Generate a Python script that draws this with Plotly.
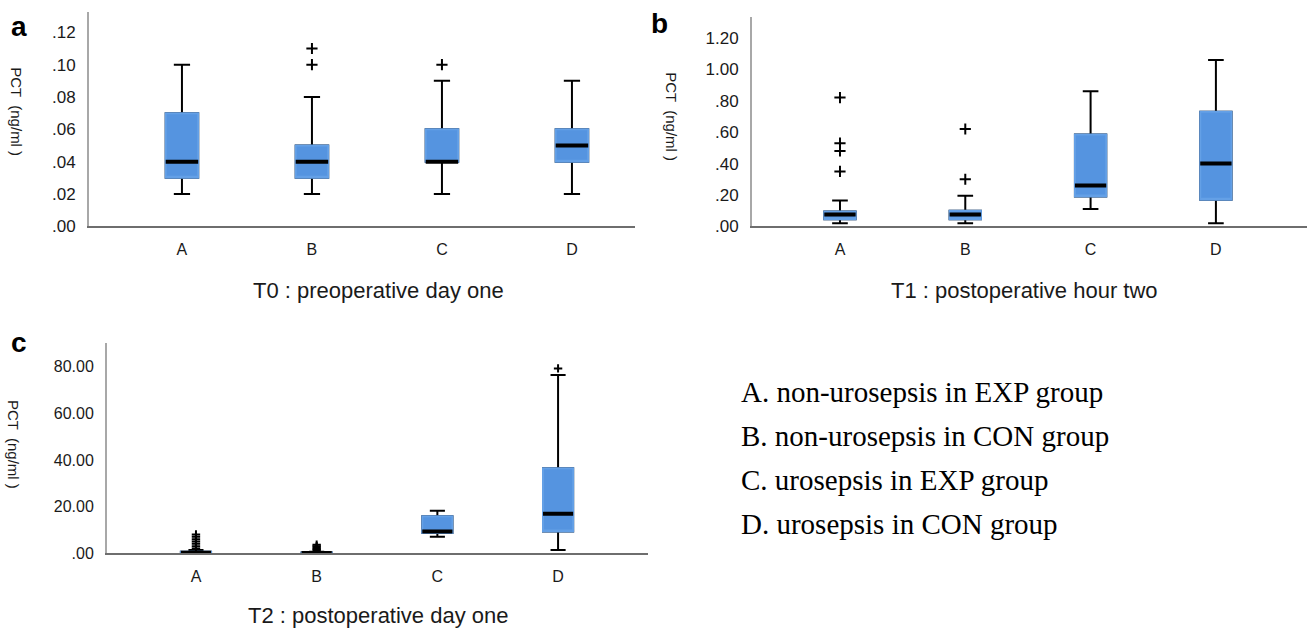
import plotly.graph_objects as go

# ---------------- data ----------------
categories = ["A", "B", "C", "D"]
cat_pos = [0, 1, 2, 3]

# T0 : preoperative day one
t0_low = [0.02, 0.02, 0.02, 0.02]
t0_q1 = [0.03, 0.03, 0.04, 0.04]
t0_med = [0.04, 0.04, 0.04, 0.05]
t0_q3 = [0.07, 0.05, 0.06, 0.06]
t0_high = [0.10, 0.08, 0.09, 0.09]
t0_out_cat = [1, 1, 2]
t0_out_val = [0.10, 0.11, 0.10]

# T1 : postoperative hour two
t1_low = [0.02, 0.02, 0.11, 0.02]
t1_q1 = [0.045, 0.045, 0.19, 0.17]
t1_med = [0.075, 0.075, 0.26, 0.40]
t1_q3 = [0.095, 0.10, 0.585, 0.73]
t1_high = [0.165, 0.195, 0.86, 1.06]
t1_out_cat = [0, 0, 0, 0, 1, 1]
t1_out_val = [0.35, 0.48, 0.53, 0.82, 0.30, 0.62]

# T2 : postoperative day one
t2_low = [0.02, 0.02, 7.0, 1.3]
t2_q1 = [0.1, 0.05, 8.7, 9.3]
t2_med = [0.2, 0.1, 9.3, 16.9]
t2_q3 = [0.6, 0.3, 15.8, 36.4]
t2_high = [1.3, 0.6, 18.2, 76.5]
t2_out_cat = [0, 0, 0, 0, 0, 0, 0, 1, 1, 1, 1, 1, 3]
t2_out_val = [2.0, 3.0, 4.0, 5.0, 6.0, 7.0, 8.0, 1.2, 1.8, 2.4, 3.0, 3.6, 79.3]

t0_ticks = [0, 0.02, 0.04, 0.06, 0.08, 0.10, 0.12]
t0_ticktext = [".00", ".02", ".04", ".06", ".08", ".10", ".12"]
t1_ticks = [0, 0.2, 0.4, 0.6, 0.8, 1.0, 1.2]
t1_ticktext = [".00", ".20", ".40", ".60", ".80", "1.00", "1.20"]
t2_ticks = [0, 20, 40, 60, 80]
t2_ticktext = [".00", "20.00", "40.00", "60.00", "80.00"]

panel_titles = ["T0 : preoperative day one", "T1 : postoperative hour two", "T2 : postoperative day one"]
panel_letters = ["a", "b", "c"]
y_title = "PCT  (ng/ml )"
legend_lines = [
    "A. non-urosepsis in EXP group",
    "B. non-urosepsis in CON group",
    "C. urosepsis in EXP group",
    "D. urosepsis in CON group",
]

# ---------------- styling ----------------
W, H = 1312, 634
BLUE = "#5594e0"
SANS = "Liberation Sans, Arial, sans-serif"
SERIF = "Liberation Serif, Times New Roman, serif"
TXT = "#1a1a1a"


def px_x(p):
    return p / W


def px_y(p):
    return 1 - p / H


fig = go.Figure()


def add_panel(idx, low, q1, med, q3, high, out_cat, out_val, marker_size):
    xa = "x" if idx == 1 else f"x{idx}"
    ya = "y" if idx == 1 else f"y{idx}"
    common = dict(x=cat_pos, xaxis=xa, yaxis=ya, width=0.25, boxpoints=False,
                  showlegend=False, hoverinfo="skip", orientation="v")
    # whiskers + box (black lines)
    fig.add_trace(go.Box(q1=q1, median=med, q3=q3, lowerfence=low, upperfence=high,
                         fillcolor=BLUE, line=dict(color="black", width=2),
                         whiskerwidth=0.5, **common))
    # blue cover hiding the black box outline
    fig.add_trace(go.Box(q1=q1, median=q1, q3=q3, lowerfence=q1, upperfence=q3,
                         fillcolor=BLUE, line=dict(color="#64a0e6", width=2),
                         whiskerwidth=0, **common))
    # black median bar
    fig.add_trace(go.Box(q1=med, median=med, q3=med, lowerfence=med, upperfence=med,
                         fillcolor="black", line=dict(color="black", width=4),
                         whiskerwidth=0, **common))
    # outliers
    fig.add_trace(go.Scatter(x=out_cat, y=out_val, mode="markers", xaxis=xa, yaxis=ya,
                             marker=dict(symbol="cross-thin", size=marker_size,
                                         line=dict(color="black", width=2)),
                             showlegend=False, hoverinfo="skip"))


add_panel(1, t0_low, t0_q1, t0_med, t0_q3, t0_high, t0_out_cat, t0_out_val, 8)
add_panel(2, t1_low, t1_q1, t1_med, t1_q3, t1_high, t1_out_cat, t1_out_val, 8)
add_panel(3, t2_low, t2_q1, t2_med, t2_q3, t2_high, t2_out_cat, t2_out_val, 6)


def xaxis_cfg(dom, rng, anchor):
    return dict(domain=[px_x(dom[0]), px_x(dom[1])], range=rng, anchor=anchor,
                tickvals=cat_pos, ticktext=categories, showline=True,
                linecolor="#6e6e6e", linewidth=1.5, showgrid=False, zeroline=False,
                ticks="", ticklabelstandoff=8,
                tickfont=dict(family=SANS, size=16, color=TXT), fixedrange=True)


def yaxis_cfg(dom, rng, anchor, tv, tt, fs):
    return dict(domain=[px_y(dom[1]), px_y(dom[0])], range=rng, anchor=anchor,
                tickvals=tv, ticktext=tt, showline=True, linecolor="#a8a8a8",
                linewidth=2, showgrid=False, zeroline=False, ticks="",
                ticklabelstandoff=8,
                tickfont=dict(family=SANS, size=fs, color=TXT), fixedrange=True)


fig.update_layout(
    width=W, height=H, margin=dict(l=0, r=0, t=0, b=0),
    paper_bgcolor="white", plot_bgcolor="white", boxmode="overlay",
    xaxis=xaxis_cfg((89, 635), [-0.715, 3.485], "y"),
    yaxis=yaxis_cfg((12, 230), [0, 0.1327], "x", t0_ticks, t0_ticktext, 17),
    xaxis2=xaxis_cfg((752, 1307), [-0.702, 3.727], "y2"),
    yaxis2=yaxis_cfg((17, 230), [0, 1.335], "x2", t1_ticks, t1_ticktext, 17),
    xaxis3=xaxis_cfg((107, 648), [-0.737, 3.745], "y3"),
    yaxis3=yaxis_cfg((349, 562), [0, 90], "x3", t2_ticks, t2_ticktext, 16),
)

ann = []
# panel letters
for letter, (x, y) in zip(panel_letters, [(19, 27), (659, 24), (19, 348)]):
    ann.append(dict(text=f"<b>{letter}</b>", x=px_x(x), y=px_y(y), xref="paper", yref="paper",
                    showarrow=False, xanchor="center", yanchor="middle",
                    font=dict(family=SANS, size=28, color="black")))
# x titles
for t, (x, y) in zip(panel_titles, [(378, 295), (1024, 295), (378, 625)]):
    ann.append(dict(text=t, x=px_x(x), y=px_y(y), xref="paper", yref="paper",
                    showarrow=False, xanchor="center", yanchor="middle",
                    font=dict(family=SANS, size=22, color=TXT)))
# y titles (rotated, reading downward)
for (x, y) in [(17, 113), (672, 118), (13, 451)]:
    ann.append(dict(text=y_title, x=px_x(x), y=px_y(y), xref="paper", yref="paper",
                    showarrow=False, xanchor="center", yanchor="middle", textangle=90,
                    font=dict(family=SANS, size=15, color=TXT)))
# group legend text
for i, line in enumerate(legend_lines):
    ann.append(dict(text=line, x=px_x(739), y=px_y(398 + i * 44.7), xref="paper", yref="paper",
                    showarrow=False, xanchor="left", yanchor="middle",
                    font=dict(family=SERIF, size=29, color="black")))
fig.update_layout(annotations=ann)

fig.write_html("out.html")
